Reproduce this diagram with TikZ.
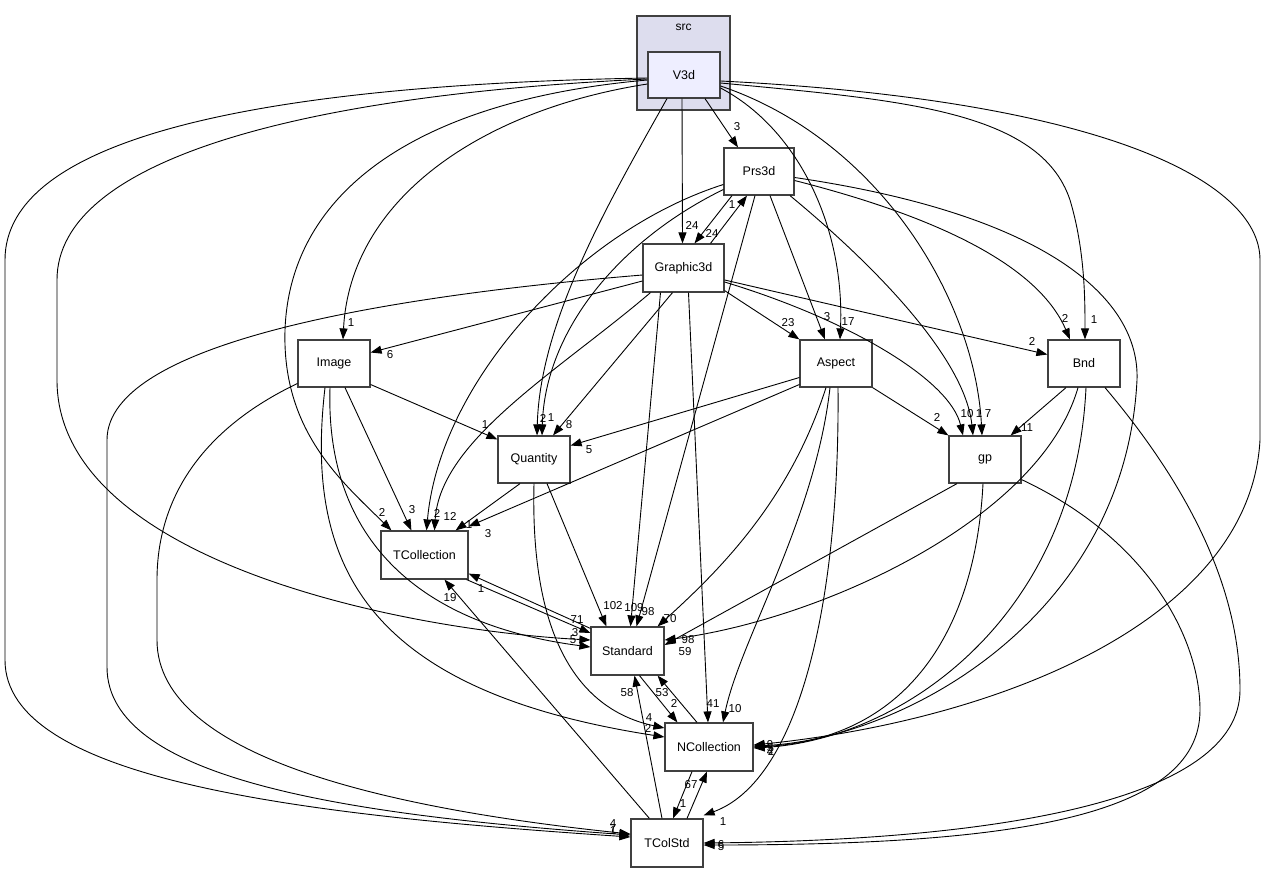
\documentclass[tikz,border=0pt]{standalone}
\usepackage{fontspec}
\setmainfont{Liberation Sans}
\usetikzlibrary{arrows.meta}
\definecolor{clusterfill}{HTML}{DDDDEE}
\definecolor{mainfill}{HTML}{EEEEFF}
\definecolor{frame}{HTML}{404040}

\begin{document}
\begin{tikzpicture}[
	x=1pt, y=-1pt,
	pkg/.style={draw=frame, line width=1.2pt, fill=white, minimum width=72pt, minimum height=47pt, inner sep=0pt, font=\fontsize{12.5}{15}\selectfont},
	srcbox/.style={draw=frame, line width=1.2pt, fill=clusterfill, minimum width=93pt, minimum height=94pt},
	dep/.style={-{Triangle[length=11pt,width=8pt]}, line width=0.9pt},
	num/.style={inner sep=0pt, font=\fontsize{11.5}{13}\selectfont}
]
\fill[white] (0,0) rectangle (1267,873);
\useasboundingbox (0,0) rectangle (1267,873);

% Cluster and packages
\node[srcbox] (src) at (683.5,63) {};
\node[font=\fontsize{12}{14}\selectfont] (srctxt) at (683.5,27) {src};
\node[pkg, fill=mainfill, minimum height=46pt] (V3d) at (684,75) {V3d};
\node[pkg, minimum width=70pt] (Prs3d) at (759,171.5) {Prs3d};
\node[pkg, minimum width=81pt, minimum height=48pt] (Graphic3d) at (683.5,268) {Graphic3d};
\node[pkg] (Image) at (334,363.5) {Image};
\node[pkg] (Aspect) at (836,363.5) {Aspect};
\node[pkg] (Bnd) at (1084,363.5) {Bnd};
\node[pkg] (Quantity) at (534,459.5) {Quantity};
\node[pkg] (gp) at (985,459.5) {gp};
\node[pkg, minimum width=87pt, minimum height=48pt] (TCollection) at (424.5,555) {TCollection};
\node[pkg, minimum width=73pt, minimum height=48pt] (Standard) at (627.5,651) {Standard};
\node[pkg, minimum width=88pt, minimum height=48pt] (NCollection) at (709,747) {NCollection};
\node[pkg, minimum height=48pt] (TColStd) at (667,843) {TColStd};

% V3d
\draw[dep] ([shift={(21,0)}]V3d.south) -- ([shift={(-21,0)}]Prs3d.north);
\draw[dep] ([shift={(-2,0)}]V3d.south) -- ([shift={(-1,0)}]Graphic3d.north);
\draw[dep] ([shift={(-17,0)}]V3d.south) .. controls (610,200) and (540,320) .. ([shift={(3,0)}]Quantity.north);
\draw[dep] ([shift={(0,9)}]V3d.west) .. controls (480,110) and (350,200) .. ([shift={(9,0)}]Image.north);
\draw[dep] ([shift={(0,5)}]V3d.west) .. controls (420,100) and (290,190) .. (285,330)
	.. controls (282,430) and (340,480) .. ([shift={(11,0)}]TCollection.north west);
\draw[dep] ([shift={(0,4)}]V3d.west) .. controls (300,95) and (57,160) .. (57,280) -- (57,380)
	.. controls (57,560) and (400,630) .. ([shift={(0,-11)}]Standard.west);
\draw[dep] ([shift={(0,3)}]V3d.west) .. controls (250,85) and (5,140) .. (5,260) -- (5,660)
	.. controls (5,780) and (300,815) .. ([shift={(0,-6)}]TColStd.west);
\draw[dep] ([shift={(0,13)}]V3d.east) .. controls (800,130) and (845,230) .. ([shift={(4,0)}]Aspect.north);
\draw[dep] ([shift={(0,11)}]V3d.east) .. controls (880,140) and (975,300) .. ([shift={(-3,0)}]gp.north);
\draw[dep] ([shift={(0,8)}]V3d.east) .. controls (900,100) and (1040,110) .. (1070,200)
	.. controls (1085,250) and (1085,300) .. ([shift={(1,0)}]Bnd.north);
\draw[dep] ([shift={(0,6)}]V3d.east) .. controls (1100,100) and (1260,180) .. (1260,260) -- (1260,440)
	.. controls (1250,620) and (1000,720) .. ([shift={(0,-2)}]NCollection.east);

% Prs3d
\draw[dep] ([shift={(-27,0)}]Prs3d.south) -- ([shift={(11,0)}]Graphic3d.north);
\draw[dep] ([shift={(27,0)}]Graphic3d.north) -- ([shift={(-12,0)}]Prs3d.south);
\draw[dep] ([shift={(0,18)}]Prs3d.west) .. controls (620,240) and (545,330) .. ([shift={(8,0)}]Quantity.north);
\draw[dep] ([shift={(0,13)}]Prs3d.west) .. controls (580,230) and (440,380) .. ([shift={(2,0)}]TCollection.north);
\draw[dep] ([shift={(-4,0)}]Prs3d.south) -- ([shift={(9,0)}]Standard.north);
\draw[dep] ([shift={(11,0)}]Prs3d.south) -- ([shift={(-11,0)}]Aspect.north);
\draw[dep] ([shift={(31,0)}]Prs3d.south) .. controls (880,270) and (965,360) .. ([shift={(-12,0)}]gp.north);
\draw[dep] ([shift={(0,9)}]Prs3d.east) .. controls (950,220) and (1040,270) .. ([shift={(-14,0)}]Bnd.north);
\draw[dep] ([shift={(0,6)}]Prs3d.east) .. controls (1050,215) and (1140,300) .. (1137,380)
	.. controls (1125,620) and (900,740) .. ([shift={(0,-1)}]NCollection.east);

% Graphic3d
\draw[dep] ([shift={(0,13)}]Graphic3d.west) -- ([shift={(0,-11)}]Image.east);
\draw[dep] ([shift={(-11,0)}]Graphic3d.south) -- ([shift={(19,0)}]Quantity.north);
\draw[dep] ([shift={(-33,0)}]Graphic3d.south) .. controls (560,370) and (440,440) .. ([shift={(10,0)}]TCollection.north);
\draw[dep] ([shift={(0,7)}]Graphic3d.west) .. controls (400,295) and (107,340) .. (107,440) -- (107,667)
	.. controls (107,780) and (350,815) .. ([shift={(0,-8)}]TColStd.west);
\draw[dep] ([shift={(-23,0)}]Graphic3d.south) -- ([shift={(3,0)}]Standard.north);
\draw[dep] ([shift={(5,0)}]Graphic3d.south) -- ([shift={(-1,0)}]NCollection.north);
\draw[dep] ([shift={(0,-2)}]Graphic3d.south east) -- (Aspect.north west);
\draw[dep] ([shift={(0,14)}]Graphic3d.east) .. controls (850,320) and (950,380) .. ([shift={(-22,0)}]gp.north);
\draw[dep] ([shift={(0,12)}]Graphic3d.east) -- ([shift={(0,-9)}]Bnd.west);

% Image
\draw[dep] ([shift={(0,21)}]Image.east) -- ([shift={(0,4)}]Quantity.north west);
\draw[dep] ([shift={(11,0)}]Image.south) -- ([shift={(31,0)}]TCollection.north west);
\draw[dep] ([shift={(-4,0)}]Image.south) .. controls (325,540) and (420,625) .. ([shift={(0,-4)}]Standard.west);
\draw[dep] ([shift={(-9,0)}]Image.south) .. controls (305,560) and (360,690) .. ([shift={(0,-10)}]NCollection.west);
\draw[dep] ([shift={(0,20)}]Image.west) .. controls (200,430) and (157,500) .. (157,580) -- (157,640)
	.. controls (157,760) and (400,810) .. ([shift={(0,-9)}]TColStd.west);

% Aspect
\draw[dep] ([shift={(0,14)}]Aspect.west) -- ([shift={(0,-14)}]Quantity.east);
\draw[dep] ([shift={(0,21)}]Aspect.west) -- ([shift={(0,-4)}]TCollection.north east);
\draw[dep] (Aspect.south east) -- (gp.north west);
\draw[dep] ([shift={(-10,0)}]Aspect.south) .. controls (790,500) and (720,570) .. ([shift={(-7,0)}]Standard.north east);
\draw[dep] ([shift={(-6,0)}]Aspect.south) .. controls (815,520) and (740,640) .. ([shift={(14,0)}]NCollection.north);
\draw[dep] ([shift={(2,0)}]Aspect.south) .. controls (840,600) and (800,780) .. ([shift={(0,-3)}]TColStd.north east);

% Bnd
\draw[dep] ([shift={(-18,0)}]Bnd.south) -- ([shift={(-11,0)}]gp.north east);
\draw[dep] ([shift={(-6,0)}]Bnd.south) .. controls (1040,520) and (820,620) .. ([shift={(0,-11)}]Standard.east);
\draw[dep] ([shift={(2,0)}]Bnd.south) .. controls (1075,620) and (900,740) .. ([shift={(0,1)}]NCollection.east);
\draw[dep] ([shift={(21,0)}]Bnd.south) .. controls (1200,500) and (1240,600) .. (1240,690)
	.. controls (1240,800) and (1000,840) .. (TColStd.east);

% gp
\draw[dep] ([shift={(-28,0)}]gp.south) -- ([shift={(0,-6)}]Standard.east);
\draw[dep] ([shift={(-2,0)}]gp.south) .. controls (975,640) and (900,740) .. (NCollection.east);
\draw[dep] ([shift={(0,-4)}]gp.south east) .. controls (1150,540) and (1200,640) .. (1200,710)
	.. controls (1200,820) and (1000,845) .. ([shift={(0,2)}]TColStd.east);

% Quantity
\draw[dep] ([shift={(-14,0)}]Quantity.south) -- ([shift={(-13,0)}]TCollection.north east);
\draw[dep] ([shift={(13,0)}]Quantity.south) -- ([shift={(16,0)}]Standard.north west);
\draw[dep] (Quantity.south) .. controls (530,640) and (580,710) .. ([shift={(0,-19)}]NCollection.west);

% Lower packages
\draw[dep] ([shift={(-2,0)}]TCollection.south east) -- ([shift={(0,-18)}]Standard.west);
\draw[dep] ([shift={(0,2)}]Standard.north west) -- ([shift={(0,-6)}]TCollection.south east);
\draw[dep] ([shift={(19,0)}]TColStd.north west) -- ([shift={(20,0)}]TCollection.south);
\draw[dep] ([shift={(-5,0)}]TColStd.north) -- ([shift={(7,0)}]Standard.south);
\draw[dep] ([shift={(12,0)}]Standard.south) -- ([shift={(13,0)}]NCollection.north west);
\draw[dep] ([shift={(-12,0)}]NCollection.north) -- ([shift={(-7,0)}]Standard.south east);
\draw[dep] ([shift={(-17,0)}]NCollection.south) -- ([shift={(6,0)}]TColStd.north);
\draw[dep] ([shift={(20,0)}]TColStd.north) -- ([shift={(-2,0)}]NCollection.south);

% Edge counts
\node[num] (c1) at (737,127) {3};
\node[num] (c2) at (692,225) {24};
\node[num] (c3) at (543,418) {2};
\node[num] (c4) at (351,323) {1};
\node[num] (c5) at (382,512) {2};
\node[num] (c6) at (575,633) {3};
\node[num] (c7) at (613,824) {4};
\node[num] (c8) at (848,322) {17};
\node[num] (c9) at (988,414) {7};
\node[num] (c10) at (1094,320) {1};
\node[num] (c11) at (770,745) {9};
\node[num] (c12) at (712,233) {24};
\node[num] (c13) at (732,205) {1};
\node[num] (c14) at (551,418) {1};
\node[num] (c15) at (437,513) {2};
\node[num] (c16) at (648,612) {98};
\node[num] (c17) at (827,317) {3};
\node[num] (c18) at (979,414) {1};
\node[num] (c19) at (1065,318) {2};
\node[num] (c20) at (771,751) {2};
\node[num] (c21) at (390,355) {6};
\node[num] (c22) at (569,425) {8};
\node[num] (c23) at (450,516) {12};
\node[num] (c24) at (613,829) {7};
\node[num] (c25) at (634,608) {109};
\node[num] (c26) at (713,704) {41};
\node[num] (c27) at (788,323) {23};
\node[num] (c28) at (967,414) {10};
\node[num] (c29) at (1032,341) {2};
\node[num] (c30) at (485,425) {1};
\node[num] (c31) at (412,510) {3};
\node[num] (c32) at (573,640) {5};
\node[num] (c33) at (648,728) {2};
\node[num] (c34) at (613,831) {1};
\node[num] (c35) at (589,450) {5};
\node[num] (c36) at (488,534) {3};
\node[num] (c37) at (937,417) {2};
\node[num] (c38) at (670,619) {70};
\node[num] (c39) at (735,709) {10};
\node[num] (c40) at (723,822) {1};
\node[num] (c41) at (1027,428) {11};
\node[num] (c42) at (688,640) {98};
\node[num] (c43) at (770,748) {5};
\node[num] (c44) at (721,845) {6};
\node[num] (c45) at (685,652) {59};
\node[num] (c46) at (770,752) {4};
\node[num] (c47) at (721,847) {5};
\node[num] (c48) at (469,525) {1};
\node[num] (c49) at (613,606) {102};
\node[num] (c50) at (649,718) {4};
\node[num] (c51) at (577,620) {71};
\node[num] (c52) at (481,589) {1};
\node[num] (c53) at (450,598) {19};
\node[num] (c54) at (627,693) {58};
\node[num] (c55) at (674,703) {2};
\node[num] (c56) at (662,693) {53};
\node[num] (c57) at (683,804) {1};
\node[num] (c58) at (691,785) {67};
\end{tikzpicture}
\end{document}
